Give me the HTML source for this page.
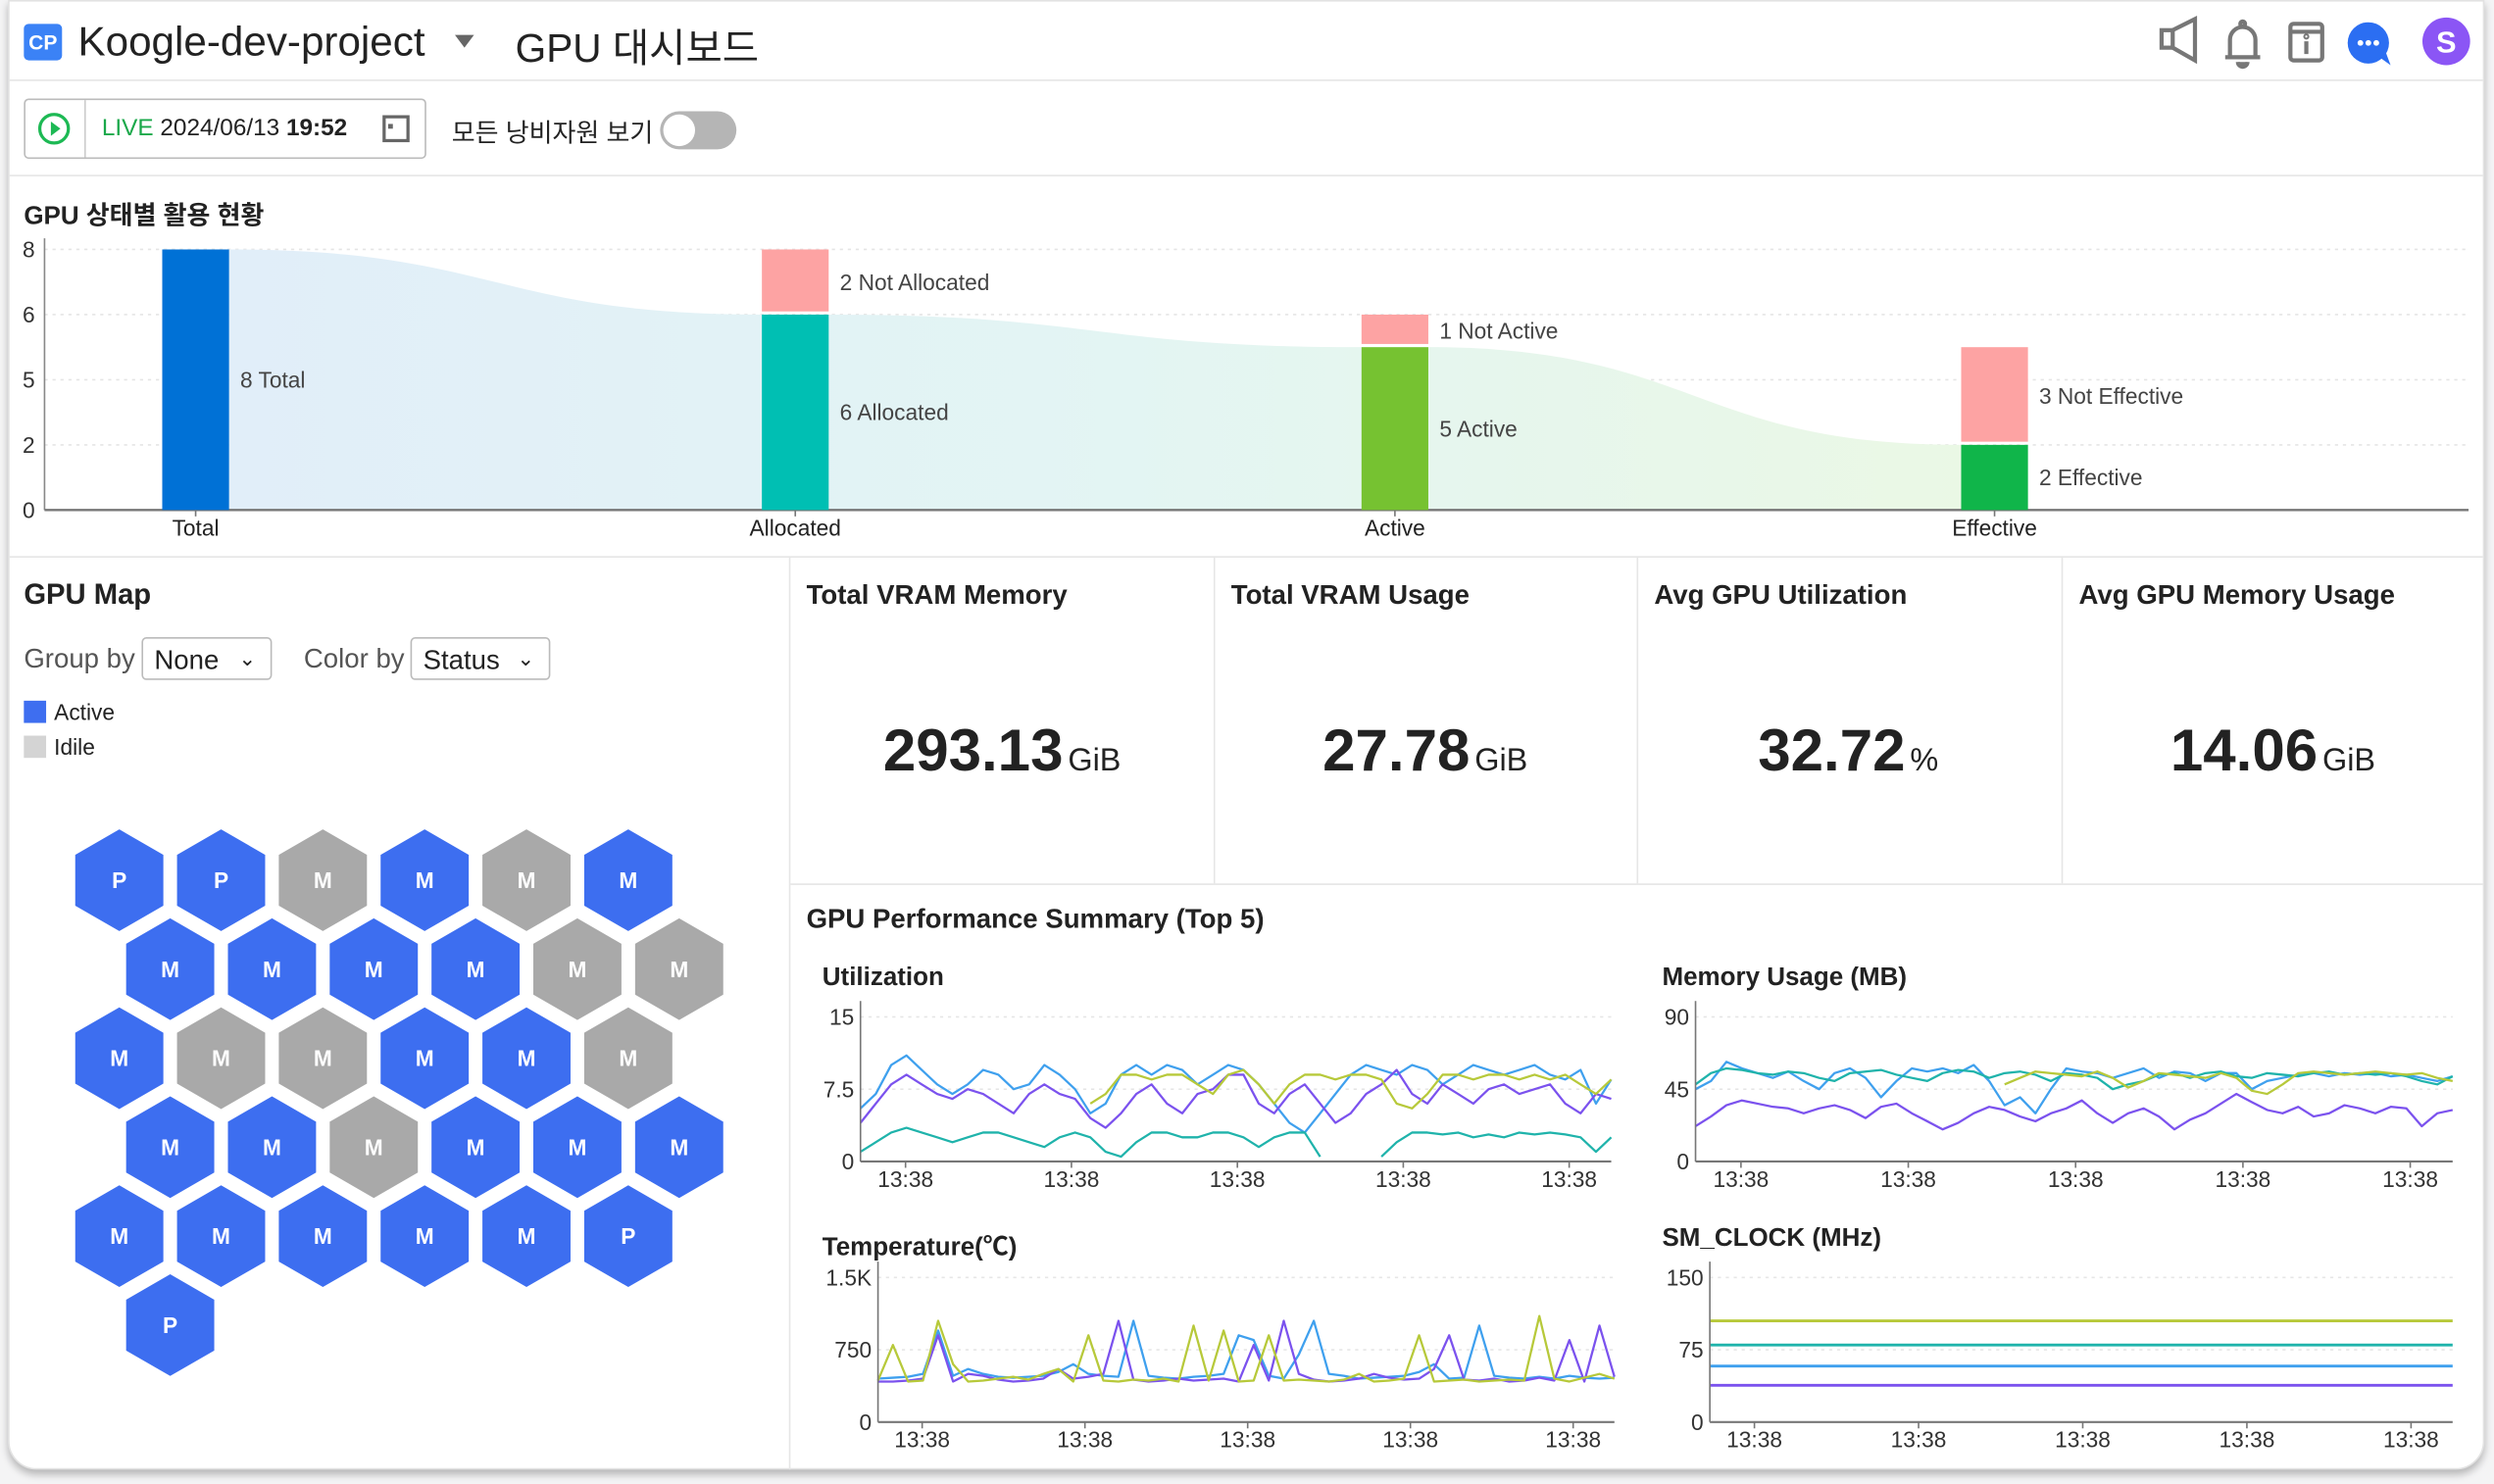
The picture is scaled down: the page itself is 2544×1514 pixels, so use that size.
<!DOCTYPE html>
<html><head><meta charset="utf-8">
<style>
html,body{margin:0;padding:0;background:#f4f4f5;}
body{width:2544px;height:1514px;overflow:hidden;position:relative;font-family:"Liberation Sans","Noto Sans CJK KR",sans-serif;color:#222;}
#stage{position:absolute;left:0;top:0;width:1568px;height:934px;transform-origin:0 0;transform:scale(1.62245,1.62099);}
#card{position:absolute;left:5px;top:0;width:1557px;height:925px;background:#fff;border-radius:0 0 18px 18px;box-shadow:0 3px 5px rgba(0,0,0,.25);border:1px solid #e2e2e2;box-sizing:border-box;}
.abs{position:absolute;}
.hline{position:absolute;height:1px;background:#e6e6e6;}
.vline{position:absolute;width:1px;background:#e6e6e6;}
.kt{position:absolute;font-weight:bold;font-size:17px;color:#222;}
.kv{position:absolute;font-weight:bold;font-size:37px;color:#222;width:266px;text-align:center;}
.kv span{font-size:20px;font-weight:normal;margin-left:3px;}
.sel{position:absolute;height:27px;border:1px solid #bbb;border-radius:3px;font-size:17px;line-height:27px;padding-left:7px;box-sizing:border-box;}
</style></head>
<body>
<div id="stage">
<div id="card"></div>

<div class="abs" style="left:15px;top:15px;width:24px;height:23px;background:#3b82f6;border-radius:3px;color:#fff;font-size:13px;font-weight:bold;text-align:center;line-height:23px;">CP</div>
<div class="abs" style="left:49px;top:11px;font-size:26px;color:#222;">Koogle-dev-project</div>
<div class="abs" style="left:286px;top:22px;width:0;height:0;border-left:6px solid transparent;border-right:6px solid transparent;border-top:8px solid #666;"></div>
<div class="abs" style="left:324px;top:11px;font-size:25px;color:#222;">GPU 대시보드</div>
<svg class="abs" style="left:1350px;top:8px" width="210" height="40" viewBox="0 0 210 40">
 <g fill="none" stroke="#777" stroke-width="2.6"><rect x="9" y="11" width="7" height="11"/><path d="M16 11 L30 4 L30 30 L16 22"/></g>
 <g fill="none" stroke="#777" stroke-width="2.6"><path d="M52 27 V17 a8 8 0 0 1 16 0 V27"/><path d="M49 28 H71"/><circle cx="60" cy="7" r="1.5"/><path d="M57 31 a3 3 0 0 0 6 0" fill="#777"/></g>
 <g fill="none" stroke="#777" stroke-width="2.6"><rect x="90" y="7" width="20" height="23" rx="2"/><path d="M90 12 H110"/><path d="M100 18 V26" /><circle cx="100" cy="15" r="0.6"/></g>
 <g><circle cx="139" cy="19" r="13" fill="#2b6ef2"/><path d="M146 28 L153 33 L150 25 Z" fill="#2b6ef2"/><circle cx="134" cy="19" r="1.8" fill="#fff"/><circle cx="139" cy="19" r="1.8" fill="#fff"/><circle cx="144" cy="19" r="1.8" fill="#fff"/></g>
 <g><circle cx="188" cy="18" r="15" fill="#8b55f5"/><text x="188" y="25" text-anchor="middle" font-size="19" font-weight="bold" fill="#fff" font-family="Liberation Sans, sans-serif">S</text></g>
</svg>
<div class="hline" style="left:6px;top:50px;width:1555px;"></div>

<div class="abs" style="left:15px;top:62px;width:253px;height:38px;border:1px solid #bbb;border-radius:3px;box-sizing:border-box;"></div>
<div class="abs" style="left:53px;top:63px;width:1px;height:36px;background:#ccc;"></div>
<svg class="abs" style="left:23px;top:70px" width="22" height="22"><circle cx="11" cy="11" r="9" fill="none" stroke="#1db954" stroke-width="2"/><path d="M9 6.5 L15 11 L9 15.5Z" fill="#1db954"/></svg>
<div class="abs" style="left:64px;top:72px;font-size:15px;"><span style="color:#1aa84a;">LIVE</span> 2024/06/13 <b>19:52</b></div>
<svg class="abs" style="left:240px;top:72px" width="18" height="18"><rect x="1.5" y="1.5" width="15" height="15" fill="none" stroke="#666" stroke-width="2"/><rect x="4" y="6" width="3" height="3" fill="#666"/></svg>
<div class="abs" style="left:284px;top:70px;font-size:16px;">모든 낭비자원 보기</div>
<div class="abs" style="left:415px;top:70px;width:48px;height:24px;border-radius:12px;background:#b5b5b5;"><div style="position:absolute;left:2px;top:2px;width:20px;height:20px;border-radius:50%;background:#fff;"></div></div>
<div class="hline" style="left:6px;top:110px;width:1555px;"></div>

<div class="abs" style="left:15px;top:122px;font-size:16px;font-weight:bold;">GPU 상태별 활용 현황</div>
<svg id="sankey" class="abs" style="left:0;top:0" width="1568" height="360"></svg>
<div class="hline" style="left:6px;top:350px;width:1555px;"></div>

<div class="abs" style="left:15px;top:364px;font-size:18px;font-weight:bold;">GPU Map</div>
<div class="abs" style="left:15px;top:405px;font-size:17px;color:#555;">Group by</div>
<div class="sel" style="left:89px;top:401px;width:82px;">None<span style="position:absolute;right:9px;top:-1px;font-size:13px;">&#8964;</span></div>
<div class="abs" style="left:191px;top:405px;font-size:17px;color:#555;">Color by</div>
<div class="sel" style="left:258px;top:401px;width:88px;">Status<span style="position:absolute;right:9px;top:-1px;font-size:13px;">&#8964;</span></div>
<div class="abs" style="left:15px;top:440px;font-size:14px;"><span style="display:inline-block;width:14px;height:14px;background:#3e6ef0;vertical-align:-2px;margin-right:5px;"></span>Active</div>
<div class="abs" style="left:15px;top:462px;font-size:14px;"><span style="display:inline-block;width:14px;height:14px;background:#d4d4d4;vertical-align:-2px;margin-right:5px;"></span>Idile</div>
<svg id="hexmap" class="abs" style="left:0;top:500px" width="496" height="380"></svg>
<div class="vline" style="left:496px;top:350px;height:575px;"></div>

<div class="kt" style="left:507px;top:365px;">Total VRAM Memory</div>
<div class="kv" style="left:497px;top:452px;">293.13<span>GiB</span></div>
<div class="vline" style="left:763px;top:350px;height:206px;"></div>
<div class="kt" style="left:774px;top:365px;">Total VRAM Usage</div>
<div class="kv" style="left:763px;top:452px;">27.78<span>GiB</span></div>
<div class="vline" style="left:1029px;top:350px;height:206px;"></div>
<div class="kt" style="left:1040px;top:365px;">Avg GPU Utilization</div>
<div class="kv" style="left:1029px;top:452px;">32.72<span>%</span></div>
<div class="vline" style="left:1296px;top:350px;height:206px;"></div>
<div class="kt" style="left:1307px;top:365px;">Avg GPU Memory Usage</div>
<div class="kv" style="left:1296px;top:452px;">14.06<span>GiB</span></div>
<div class="hline" style="left:497px;top:556px;width:1064px;"></div>

<div class="kt" style="left:507px;top:569px;">GPU Performance Summary (Top 5)</div>
<div class="kt" style="left:517px;top:607px;font-size:16px;">Utilization</div>
<div class="kt" style="left:1045px;top:607px;font-size:16px;">Memory Usage (MB)</div>
<div class="kt" style="left:517px;top:771px;font-size:16px;">Temperature(℃)</div>
<div class="kt" style="left:1045px;top:771px;font-size:16px;">SM_CLOCK (MHz)</div>
<svg id="lines" class="abs" style="left:0;top:0" width="1568" height="934"></svg>
</div>

<script>
const stageNames = ['Total','Allocated','Active','Effective'];
const stageValues = [8,6,5,2];
const stageRest = [0,2,1,3];
const stageLabels = ['Total','Allocated','Active','Effective'];
const restLabels = ['','Not Allocated','Not Active','Not Effective'];
const sankeyTickValues = [0,2,4,6,8];
const sankeyTickLabels = ['0','2','5','6','8'];
const stageColors = ['#0071d6','#00bfb3','#76c231','#10b54a'];

const hexLabels = [
 ['P','P','M','M','M','M'],
 ['M','M','M','M','M','M'],
 ['M','M','M','M','M','M'],
 ['M','M','M','M','M','M'],
 ['M','M','M','M','M','P'],
 ['P']];
const hexStatus = [
 [1,1,0,1,0,1],
 [1,1,1,1,0,0],
 [1,0,0,1,1,0],
 [1,1,0,1,1,1],
 [1,1,1,1,1,1],
 [1]];

const timeTickLabels = ['13:38','13:38','13:38','13:38','13:38'];
const timeTickPos = [0.06,0.281,0.502,0.723,0.944];
const seriesColors = ['#3fa0ee','#7b52ee','#b7c93a','#1fb3ab'];

const utilBlue = [5.5,7,10,11,9.5,8,7,8,9.5,9,7.5,8,10,9,7.5,5,6,9,10,9,10,9.5,8,9,10,9.5,8,6,4,3,5,7,9,10,9.5,9,10,9.5,8,9,10,9.5,9,9.5,10,9,8.5,9.5,6,8.5];
const utilPurple = [4,6,8,9,8,7,6.5,7.5,7,6,5,7,8,7,6.5,4.5,3.5,5,7,8,6,5,7,7.5,9,9,6,5,7,8,6,4,5,7,8,9.5,7,6,8,7,6,7.5,8,7,7.5,8,6,5,7,6.5];
const utilGreen = [null,null,null,null,null,null,null,null,null,null,null,null,null,null,null,6,7,9,9,8.5,9,9,8,7,9,9.5,8,6,8,9,9,8.5,9,9,8.5,6,5.5,7,9,9,8.5,9,9,8.5,9,8.5,9,8,7,8.5];
const utilTeal = [1,2,3,3.5,3,2.5,2,2.5,3,3,2.5,2,1.5,2.5,3,2.5,1,0.5,2,3,3,2.5,2.5,3,3,2.5,1.5,2.5,3,3,0.5,null,0.5,null,0.5,2,3,3,2.8,3,2.5,2.8,2.5,3,2.8,3,2.8,2.5,1,2.5];

const memBlue = [45,50,62,58,55,52,56,50,45,55,58,52,40,50,58,56,58,55,60,50,35,40,30,45,58,56,55,52,55,58,52,56,55,50,55,55,45,50,52,54,55,53,55,54,55,53,54,52,50,53];
const memTeal = [48,55,58,57,55,54,56,55,52,50,55,56,57,54,52,50,55,57,56,52,55,56,54,50,55,54,52,45,48,50,54,55,52,55,56,53,52,55,54,53,55,56,54,55,54,55,53,50,48,53];
const memGreen = [null,null,null,null,null,null,null,null,null,null,null,null,null,null,null,null,null,null,null,null,48,52,56,55,54,53,56,52,46,50,55,54,53,52,55,52,44,42,48,55,56,55,54,55,56,55,54,55,52,50];
const memPurple = [22,28,35,38,36,34,33,30,33,35,32,27,34,36,30,25,20,24,30,34,32,28,25,30,33,38,30,24,30,33,28,20,26,30,36,42,37,32,30,34,28,30,35,33,30,34,33,22,30,32];

const tempBlue = [450,460,470,500,950,480,550,500,470,460,470,480,520,600,500,480,470,1050,480,460,450,470,480,500,900,850,480,450,700,1050,500,480,450,460,470,480,520,600,450,460,1000,480,460,450,470,450,480,460,450,460];
const tempPurple = [420,420,430,450,900,420,500,480,440,420,430,450,550,450,470,500,1050,440,420,430,450,430,440,450,420,800,430,1050,500,440,420,430,450,500,460,440,450,550,900,440,430,450,420,430,460,430,850,420,1000,470];
const tempGreen = [430,800,420,430,1050,600,420,430,450,470,440,500,550,420,900,430,420,440,430,450,420,1000,430,950,420,430,900,430,440,430,420,440,500,420,430,450,900,420,430,440,420,430,440,430,1100,450,420,460,500,450];

const clockGreen = [105,105,105,105];
const clockTeal = [80,80,80,80];
const clockBlue = [58,58,58,58];
const clockPurple = [38,38,38,38];

const NS = 'http://www.w3.org/2000/svg';
function mk(parent, tag, attrs){ const e=document.createElementNS(NS,tag); for(const k in attrs) e.setAttribute(k,attrs[k]); parent.appendChild(e); return e; }
const FONT = 'Liberation Sans, Noto Sans CJK KR, sans-serif';

(function(){
 const svg = document.getElementById('sankey');
 const X0=28, X1=1552, Y0=321, Y8=157, vmax=8;
 const y = v => Y0 - (Y0-Y8)*v/vmax;
 const barX = [102,479,856,1233], bw=42;
 const defs = mk(svg,'defs',{});
 const lg = mk(defs,'linearGradient',{id:'flowg',x1:'0',x2:'1',y1:'0',y2:'0'});
 mk(lg,'stop',{offset:'0','stop-color':'#e1eef9'});
 mk(lg,'stop',{offset:'0.5','stop-color':'#e3f5f3'});
 mk(lg,'stop',{offset:'1','stop-color':'#ebf8e4'});
 sankeyTickValues.forEach((v,i)=>{
  const g = mk(svg,'line',{x1:X0,x2:X1,y1:y(v),y2:y(v),stroke:'#e5e5e5','stroke-dasharray':'2,3'});
  
  
  const t = mk(svg,'text',{x:22,y:y(v)+5,'text-anchor':'end','font-size':14,fill:'#333','font-family':FONT});
  t.textContent = sankeyTickLabels[i];
  
  
 });
 let d = `M${barX[0]+bw} ${y(stageValues[0])}`;
 for(let i=1;i<stageValues.length;i++){
  const xa=barX[i-1]+bw, xb=barX[i], ya=y(stageValues[i-1]), yb=y(stageValues[i]);
  const xm=(xa+xb)/2;
  d += ` C${xm} ${ya} ${xm} ${yb} ${xb} ${yb} L${xb+bw} ${yb}`;
 }
 d += ` L${barX[3]+bw} ${Y0} L${barX[0]+bw} ${Y0} Z`;
 const flow = mk(svg,'path',{d, fill:'url(#flowg)'});
 
 
 mk(svg,'line',{x1:X0,x2:X0,y1:150,y2:Y0,stroke:'#888','stroke-width':1});
 mk(svg,'line',{x1:X0,x2:X1,y1:Y0,y2:Y0,stroke:'#777','stroke-width':1.5});
 stageNames.forEach((n,i)=>{
  const x=barX[i];
  const b = mk(svg,'rect',{x, y:y(stageValues[i]), width:bw, height:Y0-y(stageValues[i]), fill:stageColors[i]});
  
  
  const lt = mk(svg,'text',{x:x+bw+7, y:(y(stageValues[i])+Y0)/2+5,'font-size':14,fill:'#444','font-family':FONT});
  lt.textContent = stageValues[i]+' '+stageLabels[i];
  
  
  if(stageRest[i]>0){
   const top = y(stageValues[i]+stageRest[i]);
   const r = mk(svg,'rect',{x, y:top, width:bw, height:y(stageValues[i])-top-2, fill:'#fda3a3'});
   
   
   const rt = mk(svg,'text',{x:x+bw+7, y:(top+y(stageValues[i]))/2+5,'font-size':14,fill:'#444','font-family':FONT});
   rt.textContent = stageRest[i]+' '+restLabels[i];
   
   
  }
  mk(svg,'line',{x1:x+bw/2,x2:x+bw/2,y1:Y0,y2:Y0+4,stroke:'#777'});
  const xt = mk(svg,'text',{x:x+bw/2,y:337,'text-anchor':'middle','font-size':14,fill:'#222','font-family':FONT});
  xt.textContent = n;
  
  
 });
})();

(function(){
 const svg = document.getElementById('hexmap');
 const R=32, dx=64, dy=56, x0=75, y0=54;
 hexLabels.forEach((row,r)=>{
  row.forEach((lab,c)=>{
   const cx = x0 + c*dx + (r%2? dx/2:0), cy = y0 + r*dy;
   let pts=[];
   for(let k=0;k<6;k++){ const a=Math.PI/180*(60*k-90); pts.push((cx+R*Math.cos(a)).toFixed(1)+','+(cy+R*Math.sin(a)).toFixed(1)); }
   const h = mk(svg,'polygon',{points:pts.join(' '), fill: hexStatus[r][c]? '#3d6ef0':'#a9a9a9'});
   
   
   const t = mk(svg,'text',{x:cx,y:cy+5,'text-anchor':'middle','font-size':14,'font-weight':'bold',fill:'#fff','font-family':FONT});
   t.textContent = lab;
   
   
  });
 });
})();

function lineChart(svg, cfg){
 const xs = f => cfg.x0 + (cfg.x1-cfg.x0)*f;
 const ys = v => cfg.yb - (cfg.yb-cfg.yt)*v/cfg.max;
 cfg.ticks.forEach((v,i)=>{
  if(v>0){ const g=mk(svg,'line',{x1:cfg.x0,x2:cfg.x1,y1:ys(v),y2:ys(v),stroke:'#e6e6e6','stroke-dasharray':'2,3'});
   
    }
  const t = mk(svg,'text',{x:cfg.x0-4,y:ys(v)+5,'text-anchor':'end','font-size':14,fill:'#333','font-family':FONT});
  t.textContent = cfg.tickLabels[i];
  
  
 });
 cfg.series.forEach((s,si)=>{
  let d='', pen=false;
  s.forEach((v,i)=>{
   if(v===null){pen=false;return;}
   const x = xs(i/(s.length-1)), y = ys(v);
   d += (pen?'L':'M') + x.toFixed(1)+' '+y.toFixed(1)+' ';
   pen=true;
  });
  const p = mk(svg,'path',{d, fill:'none', stroke:cfg.colors[si], 'stroke-width':cfg.sw||1.4,'stroke-linejoin':'round'});
  
  
 });
 mk(svg,'line',{x1:cfg.x0,x2:cfg.x0,y1:cfg.yt-10,y2:cfg.yb,stroke:'#777'});
 mk(svg,'line',{x1:cfg.x0,x2:cfg.x1,y1:cfg.yb,y2:cfg.yb,stroke:'#777','stroke-width':1.3});
 timeTickPos.forEach((f,i)=>{
  mk(svg,'line',{x1:xs(f),x2:xs(f),y1:cfg.yb,y2:cfg.yb+4,stroke:'#777'});
  const t = mk(svg,'text',{x:xs(f),y:cfg.yb+16,'text-anchor':'middle','font-size':14,fill:'#333','font-family':FONT});
  t.textContent = timeTickLabels[i];
  
  
 });
}
const L = document.getElementById('lines');
lineChart(L,{name:'utilization',x0:541,x1:1013,yb:731,yt:640,max:15,ticks:[0,7.5,15],tickLabels:['0','7.5','15'],
 series:[utilBlue,utilPurple,utilGreen,utilTeal],colors:[seriesColors[0],seriesColors[1],seriesColors[2],seriesColors[3]]});
lineChart(L,{name:'memory',x0:1066,x1:1542,yb:731,yt:640,max:90,ticks:[0,45,90],tickLabels:['0','45','90'],
 series:[memBlue,memTeal,memGreen,memPurple],colors:[seriesColors[0],seriesColors[3],seriesColors[2],seriesColors[1]]});
lineChart(L,{name:'temperature',x0:552,x1:1015,yb:895,yt:804,max:1500,ticks:[0,750,1500],tickLabels:['0','750','1.5K'],
 series:[tempBlue,tempPurple,tempGreen],colors:[seriesColors[0],seriesColors[1],seriesColors[2]]});
lineChart(L,{name:'smclock',x0:1075,x1:1542,yb:895,yt:804,max:150,ticks:[0,75,150],tickLabels:['0','75','150'],sw:1.8,
 series:[clockGreen,clockTeal,clockBlue,clockPurple],colors:[seriesColors[2],seriesColors[3],seriesColors[0],seriesColors[1]]});
</script>
</body></html>
